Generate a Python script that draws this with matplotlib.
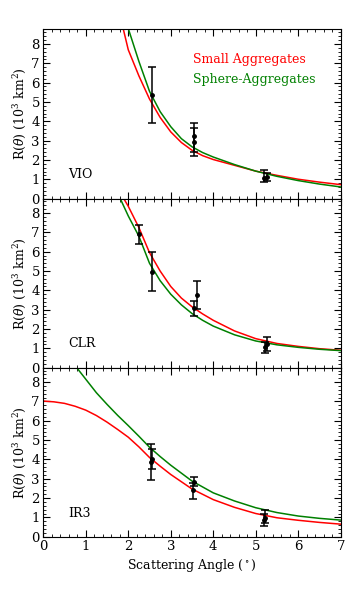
import numpy as np
import matplotlib
matplotlib.use('Agg')
import matplotlib.pyplot as plt
from matplotlib.ticker import MultipleLocator

plt.rcParams['font.family'] = 'DejaVu Serif'
plt.rcParams['mathtext.fontset'] = 'dejavuserif'

# model curves (scattering angle in degrees, R in 10^3 km^2)
vio_small_x = [1.88, 2.0, 2.25, 2.5, 2.75, 3.0, 3.25, 3.5, 3.75, 4.0, 4.5, 5.0, 5.5, 6.0, 6.5, 7.0]
vio_small_y = [8.8, 7.7, 6.35, 5.15, 4.2, 3.45, 2.9, 2.5, 2.22, 2.02, 1.72, 1.42, 1.2, 1.0, 0.85, 0.72]
vio_sphere_x = [2.0, 2.25, 2.5, 2.75, 3.0, 3.25, 3.5, 3.75, 4.0, 4.5, 5.0, 5.5, 6.0, 6.5, 7.0]
vio_sphere_y = [8.8, 7.1, 5.55, 4.5, 3.72, 3.1, 2.68, 2.38, 2.15, 1.76, 1.42, 1.15, 0.93, 0.75, 0.6]

clr_small_x = [1.88, 2.0, 2.25, 2.5, 2.75, 3.0, 3.25, 3.5, 3.75, 4.0, 4.5, 5.0, 5.5, 6.0, 6.5, 7.0]
clr_small_y = [8.8, 8.35, 7.25, 5.95, 5.0, 4.2, 3.6, 3.15, 2.78, 2.45, 1.9, 1.5, 1.25, 1.1, 0.98, 0.9]
clr_sphere_x = [1.8, 2.0, 2.25, 2.5, 2.75, 3.0, 3.25, 3.5, 3.75, 4.0, 4.5, 5.0, 5.5, 6.0, 6.5, 7.0]
clr_sphere_y = [8.8, 7.85, 6.8, 5.4, 4.5, 3.8, 3.25, 2.8, 2.45, 2.15, 1.7, 1.38, 1.18, 1.05, 0.95, 0.88]

ir3_small_x = [0.0, 0.25, 0.5, 0.75, 1.0, 1.25, 1.5, 1.75, 2.0, 2.25, 2.5, 2.75, 3.0, 3.5, 4.0, 4.5, 5.0, 5.5, 6.0, 6.5, 7.0]
ir3_small_y = [7.02, 6.98, 6.9, 6.75, 6.55, 6.27, 5.93, 5.55, 5.15, 4.65, 4.1, 3.65, 3.22, 2.47, 1.92, 1.52, 1.2, 0.98, 0.85, 0.74, 0.65]
ir3_sphere_x = [0.75, 1.0, 1.25, 1.5, 1.75, 2.0, 2.25, 2.5, 2.75, 3.0, 3.5, 4.0, 4.5, 5.0, 5.5, 6.0, 6.5, 7.0]
ir3_sphere_y = [8.85, 8.15, 7.45, 6.85, 6.28, 5.75, 5.2, 4.63, 4.15, 3.7, 2.88, 2.27, 1.85, 1.5, 1.25, 1.07, 0.95, 0.86]

# measured points: angle, value, lower end, upper end
vio_pt_x = [2.55, 3.55, 3.55, 5.2, 5.26]
vio_pt_y = [5.37, 3.22, 2.94, 1.07, 1.12]
vio_pt_lo = [3.92, 2.4, 2.22, 0.85, 0.92]
vio_pt_hi = [6.8, 3.9, 3.65, 1.46, 1.3]

clr_pt_x = [2.25, 2.57, 3.55, 3.61, 5.22, 5.27]
clr_pt_y = [6.9, 4.97, 3.07, 3.77, 1.05, 1.2]
clr_pt_lo = [6.38, 3.94, 2.68, 3.05, 0.76, 0.85]
clr_pt_hi = [7.4, 6.0, 3.46, 4.49, 1.35, 1.57]

ir3_pt_x = [2.53, 2.56, 3.55, 3.53, 5.2, 5.22]
ir3_pt_y = [3.89, 4.04, 2.85, 2.4, 0.87, 0.96]
ir3_pt_lo = [2.96, 3.52, 2.6, 1.97, 0.56, 0.7]
ir3_pt_hi = [4.82, 4.56, 3.08, 2.8, 1.2, 1.36]

panels = [
    ('VIO', vio_small_x, vio_small_y, vio_sphere_x, vio_sphere_y, vio_pt_x, vio_pt_y, vio_pt_lo, vio_pt_hi),
    ('CLR', clr_small_x, clr_small_y, clr_sphere_x, clr_sphere_y, clr_pt_x, clr_pt_y, clr_pt_lo, clr_pt_hi),
    ('IR3', ir3_small_x, ir3_small_y, ir3_sphere_x, ir3_sphere_y, ir3_pt_x, ir3_pt_y, ir3_pt_lo, ir3_pt_hi),
]

fig, axes = plt.subplots(3, 1, figsize=(3.59, 5.98), dpi=100, sharex=True)
fig.subplots_adjust(left=0.1206, right=0.949, top=0.9507, bottom=0.1025, hspace=0)

for ax, (name, sx, sy, gx, gy, px, py, plo, phi) in zip(axes, panels):
    ax.plot(sx, sy, color='#ff0000', lw=1.1)
    ax.plot(gx, gy, color='#008000', lw=1.1)
    py = np.array(py)
    yerr = [py - np.array(plo), np.array(phi) - py]
    ax.errorbar(px, py, yerr=yerr, fmt='o', color='black', ms=2.5, capsize=2.8, elinewidth=1.1, capthick=1.1)
    ax.set_xlim(0, 7)
    ax.set_ylim(0, 8.75)
    ax.xaxis.set_major_locator(MultipleLocator(1))
    ax.xaxis.set_minor_locator(MultipleLocator(0.2))
    ax.yaxis.set_major_locator(MultipleLocator(1))
    ax.yaxis.set_minor_locator(MultipleLocator(0.2))
    ax.tick_params(which='both', direction='in', top=True, right=True, labelsize=9.5, pad=2.5)
    ax.tick_params(which='major', length=5, width=0.8)
    ax.tick_params(which='minor', length=2.5, width=0.6)
    ax.set_ylabel(r'R($\theta$) (10$^3$ km$^2$)', fontsize=9)
    ax.yaxis.set_label_coords(-0.053, 0.5)
    ax.text(0.083, 0.14, name, transform=ax.transAxes, fontsize=9, va='center')

axes[0].text(0.503, 0.82, 'Small Aggregates', transform=axes[0].transAxes, color='#ff0000', fontsize=9, va='center')
axes[0].text(0.503, 0.705, 'Sphere-Aggregates', transform=axes[0].transAxes, color='#008000', fontsize=9, va='center')
axes[2].set_xlabel(r'Scattering Angle ($^\circ$)', fontsize=9, labelpad=3)

plt.savefig('out.png', dpi=100)
